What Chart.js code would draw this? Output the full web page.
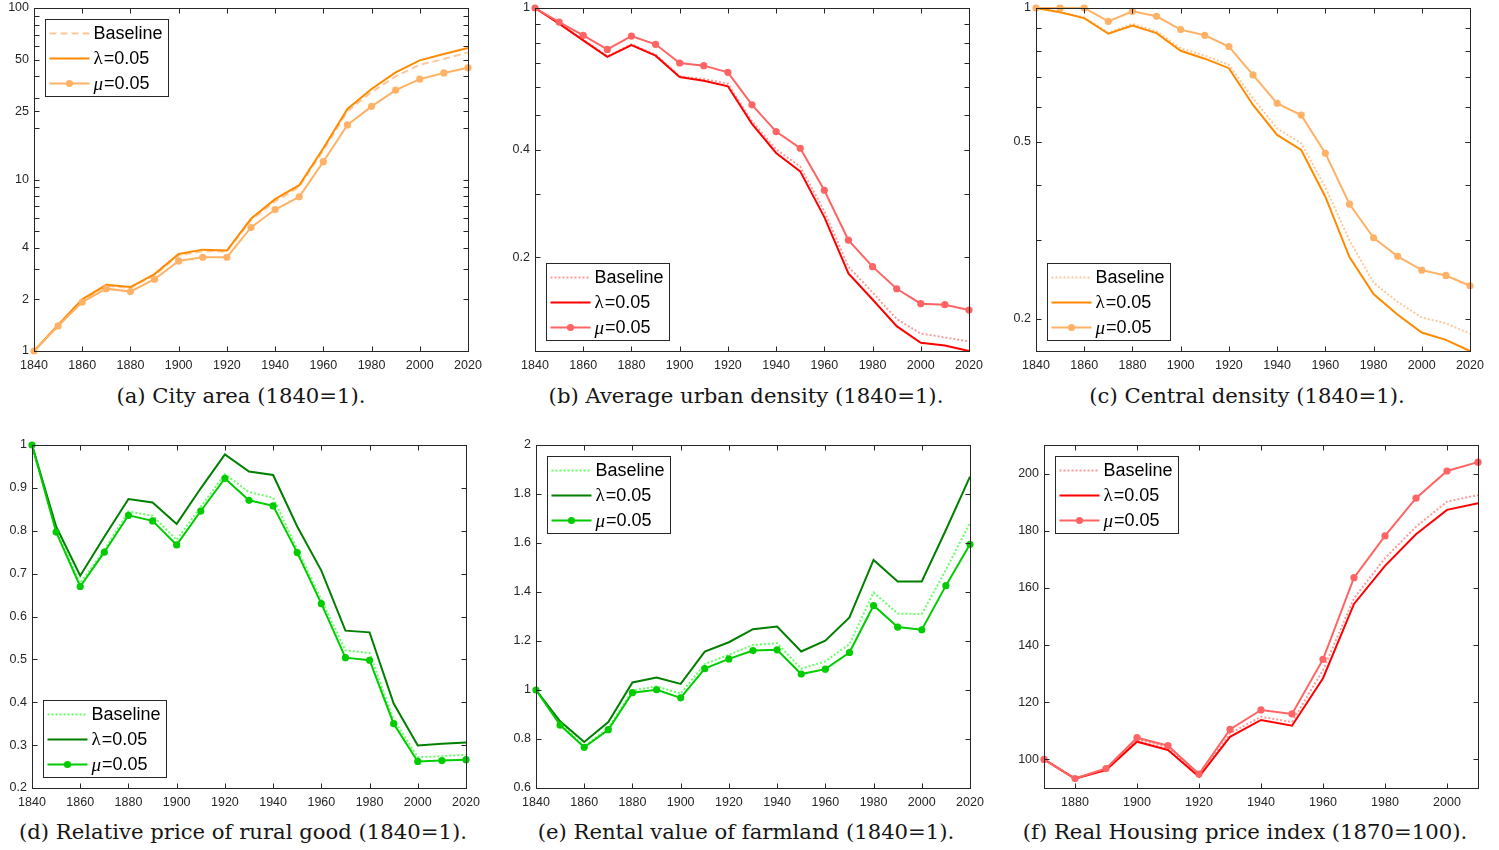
<!DOCTYPE html>
<html>
<head>
<meta charset="utf-8">
<script src="https://cdn.jsdelivr.net/npm/chart.js@4/dist/chart.umd.min.js"></script>
<style>
  body { margin: 0; background: #fff; width: 1499px; height: 850px; position: relative; overflow: hidden; }
  .panel { position: absolute; }
  .cap { position: absolute; width: 600px; text-align: center; white-space: nowrap;
         font-family: "DejaVu Serif", serif; font-size: 21.2px; line-height: 24px; color: #151515; }
</style>
</head>
<body>
<script>
// years on the x axis
const years = [1840, 1850, 1860, 1870, 1880, 1890, 1900, 1910, 1920, 1930, 1940, 1950, 1960, 1970, 1980, 1990, 2000, 2010, 2020];
const housingYears = [1870, 1880, 1890, 1900, 1910, 1920, 1930, 1940, 1950, 1960, 1970, 1980, 1990, 2000, 2010];
const yearTicks = [1840, 1860, 1880, 1900, 1920, 1940, 1960, 1980, 2000, 2020];
const housingYearTicks = [1880, 1900, 1920, 1940, 1960, 1980, 2000];

// (a) city area
const areaBase   = [1, 1.42, 1.98, 2.40, 2.33, 2.77, 3.62, 3.82, 3.80, 5.8, 7.45, 9.05, 14.8, 25.0, 32.3, 39.9, 46.7, 50.4, 55.1];
const areaLambda = [1, 1.42, 2.0, 2.43, 2.36, 2.81, 3.68, 3.90, 3.85, 5.9, 7.68, 9.26, 15.2, 25.8, 33.7, 42.1, 49.5, 53.9, 58.4];
const areaMu     = [1, 1.40, 1.93, 2.31, 2.22, 2.62, 3.35, 3.52, 3.52, 5.25, 6.68, 7.92, 12.7, 20.8, 26.7, 33.2, 38.5, 41.8, 44.8];
const areaTicks  = [1, 2, 4, 10, 25, 50, 100];
const areaMinor  = [3, 5, 6, 7, 8, 9, 20, 30, 40, 60, 70, 80, 90];

// (b) average urban density
const densBase   = [1, 0.906, 0.815, 0.733, 0.791, 0.740, 0.643, 0.632, 0.613, 0.481, 0.401, 0.359, 0.269, 0.188, 0.159, 0.134, 0.122, 0.119, 0.116];
const densLambda = [1, 0.904, 0.811, 0.729, 0.787, 0.735, 0.640, 0.625, 0.603, 0.473, 0.392, 0.348, 0.259, 0.180, 0.152, 0.128, 0.115, 0.113, 0.109];
const densMu     = [1, 0.913, 0.838, 0.765, 0.834, 0.791, 0.701, 0.689, 0.660, 0.535, 0.450, 0.404, 0.308, 0.223, 0.188, 0.163, 0.148, 0.147, 0.142];
const densTicks  = [0.2, 0.4, 1];

// (c) central density
const centBase   = [1, 0.98, 0.952, 0.88, 0.921, 0.886, 0.812, 0.781, 0.745, 0.626, 0.536, 0.496, 0.395, 0.300, 0.241, 0.218, 0.201, 0.195, 0.185];
const centLambda = [1, 0.978, 0.949, 0.875, 0.913, 0.878, 0.801, 0.769, 0.732, 0.605, 0.518, 0.479, 0.376, 0.275, 0.227, 0.204, 0.186, 0.179, 0.169];
const centMu     = [1, 1, 1, 0.933, 0.983, 0.958, 0.894, 0.868, 0.819, 0.707, 0.610, 0.574, 0.471, 0.362, 0.304, 0.276, 0.257, 0.250, 0.237];
const centTicks  = [0.2, 0.5, 1];
const fracMinor  = [0.3, 0.4, 0.5, 0.6, 0.7, 0.8, 0.9];

// (d) relative price of rural good
const ruralBase   = [1, 0.803, 0.678, 0.755, 0.845, 0.835, 0.779, 0.856, 0.932, 0.890, 0.877, 0.757, 0.639, 0.521, 0.515, 0.359, 0.272, 0.274, 0.278];
const ruralLambda = [1, 0.810, 0.695, 0.786, 0.874, 0.866, 0.816, 0.899, 0.978, 0.938, 0.930, 0.810, 0.707, 0.567, 0.563, 0.397, 0.299, 0.303, 0.306];
const ruralMu     = [1, 0.797, 0.670, 0.750, 0.836, 0.823, 0.767, 0.846, 0.922, 0.871, 0.858, 0.749, 0.630, 0.504, 0.498, 0.350, 0.262, 0.264, 0.266];
const ruralTicks  = [0.2, 0.3, 0.4, 0.5, 0.6, 0.7, 0.8, 0.9, 1];

// (e) rental value of farmland
const rentBase   = [1, 0.865, 0.770, 0.845, 0.998, 1.015, 0.985, 1.106, 1.144, 1.184, 1.191, 1.087, 1.117, 1.187, 1.398, 1.312, 1.310, 1.490, 1.683];
const rentLambda = [1, 0.872, 0.788, 0.869, 1.031, 1.051, 1.025, 1.157, 1.195, 1.248, 1.259, 1.157, 1.201, 1.296, 1.531, 1.443, 1.443, 1.653, 1.871];
const rentMu     = [1, 0.857, 0.766, 0.838, 0.989, 1.001, 0.968, 1.087, 1.127, 1.161, 1.164, 1.065, 1.085, 1.153, 1.345, 1.257, 1.246, 1.426, 1.595];
const rentTicks  = [0.6, 0.8, 1, 1.2, 1.4, 1.6, 1.8, 2];

// (f) real housing price index
const houseBase   = [100, 93.3, 96.5, 107.0, 104.1, 94.5, 109.1, 114.9, 113.1, 131.3, 156.4, 170.4, 181.4, 190.2, 192.5];
const houseLambda = [100, 93.3, 96.3, 106.2, 103.3, 93.9, 107.9, 113.8, 111.8, 128.4, 154.4, 167.7, 178.8, 187.3, 189.6];
const houseMu     = [100, 93.3, 96.8, 107.6, 104.8, 94.9, 110.5, 117.3, 115.9, 135.0, 163.6, 178.2, 191.4, 200.9, 204.0];
const houseTicks  = [100, 120, 140, 160, 180, 200];

const seriesLabels = ['Baseline', 'λ=0.05', 'μ=0.05'];

const AXIS = '#262626';
const ORANGE = { base: '#ffc898', lambda: '#ff8a00', mu: '#ffb266' };
const RED    = { base: '#ff9a9a', lambda: '#ff0000', mu: '#ff6464' };
const GREEN  = { base: '#66ff66', lambda: '#007f00', mu: '#00cc00' };

// box around the plot, inward ticks on all sides and the boxed legend
const matlabBox = {
  id: 'matlabBox',
  afterDraw(chart, args, opts) {
    const { ctx, chartArea: a, scales: { x, y } } = chart;
    const L = Math.round(a.left) + 0.5, R = Math.round(a.right) + 0.5;
    const T = Math.round(a.top) + 0.5, B = Math.round(a.bottom) + 0.5;
    ctx.save();
    ctx.strokeStyle = AXIS;
    ctx.lineWidth = 1;
    ctx.setLineDash([]);
    ctx.beginPath();
    x.ticks.forEach(t => {
      const px = Math.round(x.getPixelForValue(t.value)) + 0.5;
      ctx.moveTo(px, B); ctx.lineTo(px, B - 5);
      ctx.moveTo(px, T); ctx.lineTo(px, T + 5);
    });
    y.ticks.map(t => t.value).concat(opts.minor || []).forEach(v => {
      const py = Math.round(y.getPixelForValue(v)) + 0.5;
      if (py < T || py > B) return;
      ctx.moveTo(L, py); ctx.lineTo(L + 5, py);
      ctx.moveTo(R, py); ctx.lineTo(R - 5, py);
    });
    ctx.stroke();
    ctx.strokeRect(L, T, R - L, B - T);

    // legend
    const w = 123, h = 77;
    const bx = Math.round(a.left + 11) + 0.5;
    const by = Math.round(opts.legend === 'nw' ? a.top + 11 : a.bottom - 11 - h) + 0.5;
    ctx.fillStyle = '#fff';
    ctx.fillRect(bx, by, w, h);
    ctx.strokeStyle = AXIS;
    ctx.strokeRect(bx, by, w, h);
    chart.data.datasets.forEach((ds, i) => {
      const ry = by + 14 + i * 25;
      ctx.strokeStyle = ds.borderColor;
      ctx.lineWidth = ds.borderWidth;
      ctx.setLineDash(ds.borderDash || []);
      ctx.beginPath();
      ctx.moveTo(bx + 4, ry); ctx.lineTo(bx + 44, ry);
      ctx.stroke();
      ctx.setLineDash([]);
      if (ds.pointRadius > 0) {
        ctx.fillStyle = ds.borderColor;
        ctx.beginPath();
        ctx.arc(bx + 24, ry, ds.pointRadius, 0, Math.PI * 2);
        ctx.fill();
      }
      ctx.fillStyle = '#000';
      ctx.textBaseline = 'middle';
      let tx = bx + 48;
      let txt = ds.label;
      const first = txt[0];
      if (first === 'λ' || first === 'μ') {
        ctx.font = (first === 'μ' ? 'italic ' : '') + '19px "Liberation Serif"';
        ctx.fillText(first, tx, ry + 1);
        tx += ctx.measureText(first).width + 1;
        txt = txt.slice(1);
      }
      ctx.font = '18px "Liberation Sans"';
      ctx.fillText(txt, tx, ry + 1);
    });
    ctx.restore();
  }
};

const tickFont = { family: '"Liberation Sans", Arial, sans-serif', size: 12.5 };

function makePanel(p) {
  const div = document.createElement('div');
  div.className = 'panel';
  const W = (p.right - p.left) + 60, H = (p.bottom - p.top) + 33;
  div.style.left = (p.left - 40) + 'px';
  div.style.top = (p.top - 8) + 'px';
  const canvas = document.createElement('canvas');
  canvas.width = W; canvas.height = H;
  canvas.style.width = W + 'px'; canvas.style.height = H + 'px';
  div.appendChild(canvas);
  document.body.appendChild(div);

  const line = (label, data, color, extra) => Object.assign({
    label, data: p.xs.map((x, i) => ({ x, y: data[i] })),
    borderColor: color, backgroundColor: color, borderWidth: 2,
    pointRadius: 0, pointHoverRadius: 0, pointBorderWidth: 0, clip: false, tension: 0
  }, extra);

  new Chart(canvas.getContext('2d'), {
    type: 'line',
    data: {
      datasets: [
        line(seriesLabels[0], p.base, p.colors.base, { borderDash: p.baseDash, order: 3 }),
        line(seriesLabels[1], p.lambda, p.colors.lambda, { order: 2 }),
        line(seriesLabels[2], p.mu, p.colors.mu, { pointRadius: 3.6, order: 1 })
      ]
    },
    options: {
      responsive: false,
      animation: false,
      events: [],
      layout: { padding: { top: 8, right: 20, left: 0, bottom: 0 } },
      plugins: {
        legend: { display: false },
        tooltip: { enabled: false },
        matlabBox: { minor: p.minor, legend: p.legend }
      },
      scales: {
        x: {
          type: 'linear', min: p.xMin, max: p.xMax,
          grid: { display: false, drawTicks: false }, border: { display: false },
          ticks: { autoSkip: false, maxRotation: 0, padding: 7, color: AXIS, font: tickFont, callback: v => String(v) },
          afterBuildTicks: s => { s.ticks = p.xTicks.map(v => ({ value: v })); },
          afterFit: s => { s.height = 25; s.paddingLeft = 0; s.paddingRight = 0; }
        },
        y: {
          type: p.yType, min: p.yMin, max: p.yMax,
          grid: { display: false, drawTicks: false }, border: { display: false },
          ticks: { autoSkip: false, padding: 5, color: AXIS, font: tickFont, callback: v => String(v) },
          afterBuildTicks: s => { s.ticks = p.yTicks.map(v => ({ value: v })); },
          afterFit: s => { s.width = 40; s.paddingTop = 0; s.paddingBottom = 0; }
        }
      }
    },
    plugins: [matlabBox]
  });

  const cap = document.createElement('div');
  cap.className = 'cap';
  cap.textContent = p.caption;
  cap.style.left = (p.capX - 300) + 'px';
  cap.style.top = (p.capY - 12) + 'px';
  document.body.appendChild(cap);
}

const panels = [
  { left: 34, right: 468, top: 8, bottom: 351, xs: years, xMin: 1840, xMax: 2020, xTicks: yearTicks,
    yType: 'logarithmic', yMin: 1, yMax: 100, yTicks: areaTicks, minor: areaMinor,
    base: areaBase, lambda: areaLambda, mu: areaMu, colors: ORANGE, baseDash: [7, 4], legend: 'nw',
    caption: '(a) City area (1840=1).', capX: 241, capY: 396 },
  { left: 535, right: 969, top: 8, bottom: 351, xs: years, xMin: 1840, xMax: 2020, xTicks: yearTicks,
    yType: 'logarithmic', yMin: 0.109, yMax: 1, yTicks: densTicks, minor: fracMinor,
    base: densBase, lambda: densLambda, mu: densMu, colors: RED, baseDash: [2, 2], legend: 'sw',
    caption: '(b) Average urban density (1840=1).', capX: 746, capY: 396 },
  { left: 1036, right: 1470, top: 8, bottom: 351, xs: years, xMin: 1840, xMax: 2020, xTicks: yearTicks,
    yType: 'logarithmic', yMin: 0.169, yMax: 1, yTicks: centTicks, minor: fracMinor,
    base: centBase, lambda: centLambda, mu: centMu, colors: ORANGE, baseDash: [2, 2], legend: 'sw',
    caption: '(c) Central density (1840=1).', capX: 1247, capY: 396 },
  { left: 32, right: 466, top: 445, bottom: 788, xs: years, xMin: 1840, xMax: 2020, xTicks: yearTicks,
    yType: 'linear', yMin: 0.2, yMax: 1, yTicks: ruralTicks, minor: [],
    base: ruralBase, lambda: ruralLambda, mu: ruralMu, colors: GREEN, baseDash: [2, 2], legend: 'sw',
    caption: '(d) Relative price of rural good (1840=1).', capX: 243, capY: 832 },
  { left: 536, right: 970, top: 445, bottom: 788, xs: years, xMin: 1840, xMax: 2020, xTicks: yearTicks,
    yType: 'linear', yMin: 0.6, yMax: 2, yTicks: rentTicks, minor: [],
    base: rentBase, lambda: rentLambda, mu: rentMu, colors: GREEN, baseDash: [2, 2], legend: 'nw',
    caption: '(e) Rental value of farmland (1840=1).', capX: 746, capY: 832 },
  { left: 1044, right: 1478, top: 445, bottom: 788, xs: housingYears, xMin: 1870, xMax: 2010, xTicks: housingYearTicks,
    yType: 'linear', yMin: 90, yMax: 210, yTicks: houseTicks, minor: [],
    base: houseBase, lambda: houseLambda, mu: houseMu, colors: RED, baseDash: [2, 2], legend: 'nw',
    caption: '(f) Real Housing price index (1870=100).', capX: 1245, capY: 832 }
];

panels.forEach(makePanel);
</script>
</body>
</html>
